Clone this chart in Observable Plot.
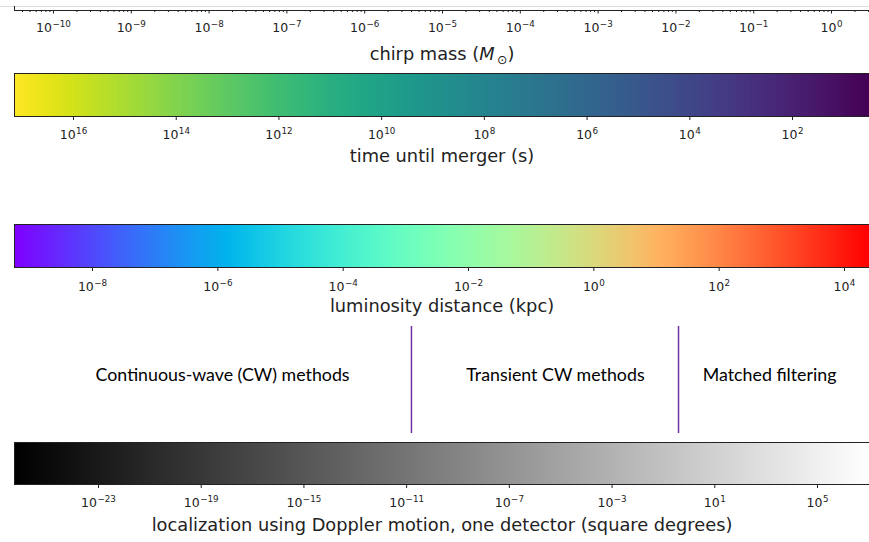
<!DOCTYPE html>
<html><head><meta charset="utf-8">
<script src="https://cdn.jsdelivr.net/npm/d3@7"></script>
<script src="https://cdn.jsdelivr.net/npm/@observablehq/plot@0.6"></script>
<style>
body{margin:0;background:#fff;}
#chart{position:relative;width:869px;height:542px;overflow:hidden;background:#fff;}
#chart svg{position:absolute;left:0;}
</style></head><body><div id="chart"></div>
<script>
// ---- data ----
const chirpDomainExp = [-10.501, 0.488];          // chirp mass axis extent (log10 M_sun)
const chirpTickExp = [-10,-9,-8,-7,-6,-5,-4,-3,-2,-1,0];
const chirpLabel = "chirp mass (M⊙)";

const timeDomainExp = [17.149, 0.501];            // time until merger (log10 s), decreasing
const timeTickExp = [16,14,12,10,8,6,4,2];
const timeLabel = "time until merger (s)";

const distDomainExp = [-9.245, 4.399];            // luminosity distance (log10 kpc)
const distTickExp = [-8,-6,-4,-2,0,2,4];
const distLabel = "luminosity distance (kpc)";

const locDomainExp = [-26.271, 7.025];            // localization (log10 sq deg)
const locTickExp = [-23,-19,-15,-11,-7,-3,1,5];
const locLabel = "localization using Doppler motion, one detector (square degrees)";

const methods = ["Continuous-wave (CW) methods", "Transient CW methods", "Matched filtering"];
const methodCenters = [1.49e-8, 2.83e-4, 0.16];   // in chirp mass
const methodBoundaries = [3.99e-6, 1.08e-2];      // in chirp mass

// ---- helpers ----
const pow10 = e => Math.pow(10, e);
const fmt = d => "10^" + Math.round(Math.log10(d));
const rainbow = t => d3.rgb(255*Math.min(1, Math.abs(2*t - 0.5)), 255*Math.sin(Math.PI*t), 255*Math.cos(Math.PI*t/2)).toString();
const gray = t => d3.rgb(255*t, 255*t, 255*t).toString();
const W = 869;
const baseStyle = {fontFamily: "DejaVu Sans", fontSize: "12.5px", background: "transparent", overflow: "hidden", color: "#222"};
const chart = document.getElementById("chart");

function superscripts(svg) {
  svg.querySelectorAll("text").forEach(t => {
    const m = /^10\^(-?\d+)$/.exec(t.textContent);
    if (!m) return;
    t.textContent = "10";
    const ts = document.createElementNS("http://www.w3.org/2000/svg", "tspan");
    ts.setAttribute("dy", "-0.62em");
    ts.setAttribute("dx", "0.05em");
    ts.style.fontSize = "70%";
    ts.textContent = m[1].replace("-", "\u2212");
    t.appendChild(ts);
  });
  svg.querySelectorAll("text").forEach(t => {
    if (t.textContent === chirpLabel) {
      t.textContent = "";
      t.innerHTML = 'chirp mass (<tspan font-style="italic">M</tspan><tspan dy="0.35em" style="font-size:70%">\u2009⊙</tspan><tspan dy="-0.25em">)</tspan>';
    }
  });
}
function place(svg, top) {
  svg.style.top = top + "px";
  superscripts(svg);
  chart.appendChild(svg);
}

// ---- A: chirp mass axis ----
const chirpDomain = chirpDomainExp.map(pow10);
const chirpMinor = [];
for (let k = -11; k <= 0; k++) for (let m = 2; m <= 9; m++) {
  const v = m * pow10(k);
  if (v >= chirpDomain[0] && v <= chirpDomain[1]) chirpMinor.push(v);
}
place(Plot.plot({
  width: W, height: 70, marginTop: 6, marginBottom: 60, marginLeft: 14, marginRight: 0,
  style: baseStyle,
  x: {type: "log", domain: chirpDomain, axis: null},
  y: {domain: [0, 1], axis: null},
  marks: [
    Plot.ruleY([1], {stroke: "#dcdcdc", insetLeft: -14}),
    Plot.ruleY([0], {stroke: "#222"}),
    Plot.ruleX([chirpDomain[0]], {stroke: "#222"}),
    Plot.axisX(chirpMinor, {anchor: "bottom", tickSize: 2, tickFormat: () => "", label: null, stroke: "#222"}),
    Plot.axisX(chirpTickExp.map(pow10), {anchor: "bottom", tickSize: 3.5, tickPadding: 9.6, tickFormat: fmt, label: null, stroke: "#222", fill: "#222"}),
    Plot.text([chirpLabel], {frameAnchor: "bottom", dy: 43.8, fontSize: 17.8, fill: "#222", lineAnchor: "middle"})
  ]
}), 0);

// ---- colorbars ----
function colorbar({top, height, marginTop, frameH, domainExp, tickExp, label, color, tickTotal, labelDy}) {
  const domain = domainExp.map(pow10);
  const lo = Math.min(...domain), hi = Math.max(...domain);
  return place(Plot.plot({
    width: W, height, marginTop, marginBottom: height - marginTop - frameH, marginLeft: 14, marginRight: 0,
    style: baseStyle,
    x: {type: "log", domain, axis: null},
    y: {domain: [0, 1], axis: null},
    color: {type: "log", domain: [lo, hi], ...color},
    marks: [
      Plot.raster({fill: (x, y) => x, x1: domain[0], x2: domain[1], y1: 0, y2: 1}),
      Plot.frame({stroke: "#222", strokeWidth: 1}),
      Plot.axisX(tickExp.map(pow10), {anchor: "bottom", tickSize: 4, tickPadding: tickTotal - 4, tickFormat: fmt, label: null, stroke: "#222", fill: "#222"}),
      Plot.text([label], {frameAnchor: "bottom", dy: labelDy, fontSize: 17.8, fill: "#222", lineAnchor: "middle"})
    ]
  }), top);
}

colorbar({top: 70, height: 106, marginTop: 3, frameH: 43, domainExp: timeDomainExp, tickExp: timeTickExp,
  label: timeLabel, color: {scheme: "viridis"}, tickTotal: 13.8, labelDy: 40});
colorbar({top: 176, height: 144, marginTop: 48, frameH: 43, domainExp: distDomainExp, tickExp: distTickExp,
  label: distLabel, color: {interpolate: rainbow}, tickTotal: 14.8, labelDy: 38.5});

// ---- D: method regions ----
place(Plot.plot({
  width: W, height: 116, marginTop: 6, marginBottom: 3, marginLeft: 14, marginRight: 0,
  style: baseStyle,
  x: {type: "log", domain: chirpDomain, axis: null},
  y: {domain: [0, 1], axis: null},
  marks: [
    Plot.ruleX(methodBoundaries, {stroke: "#7030a0", strokeWidth: 1.5}),
    Plot.text(methods, {x: methodCenters, text: d => d, frameAnchor: "top", dy: 49, fontSize: 17.8, fontFamily: "Lato", fill: "#000", lineAnchor: "middle"})
  ]
}), 320);

colorbar({top: 436, height: 106, marginTop: 6, frameH: 42, domainExp: locDomainExp, tickExp: locTickExp,
  label: locLabel, color: {interpolate: gray}, tickTotal: 13.8, labelDy: 40.5});
</script></body></html>
